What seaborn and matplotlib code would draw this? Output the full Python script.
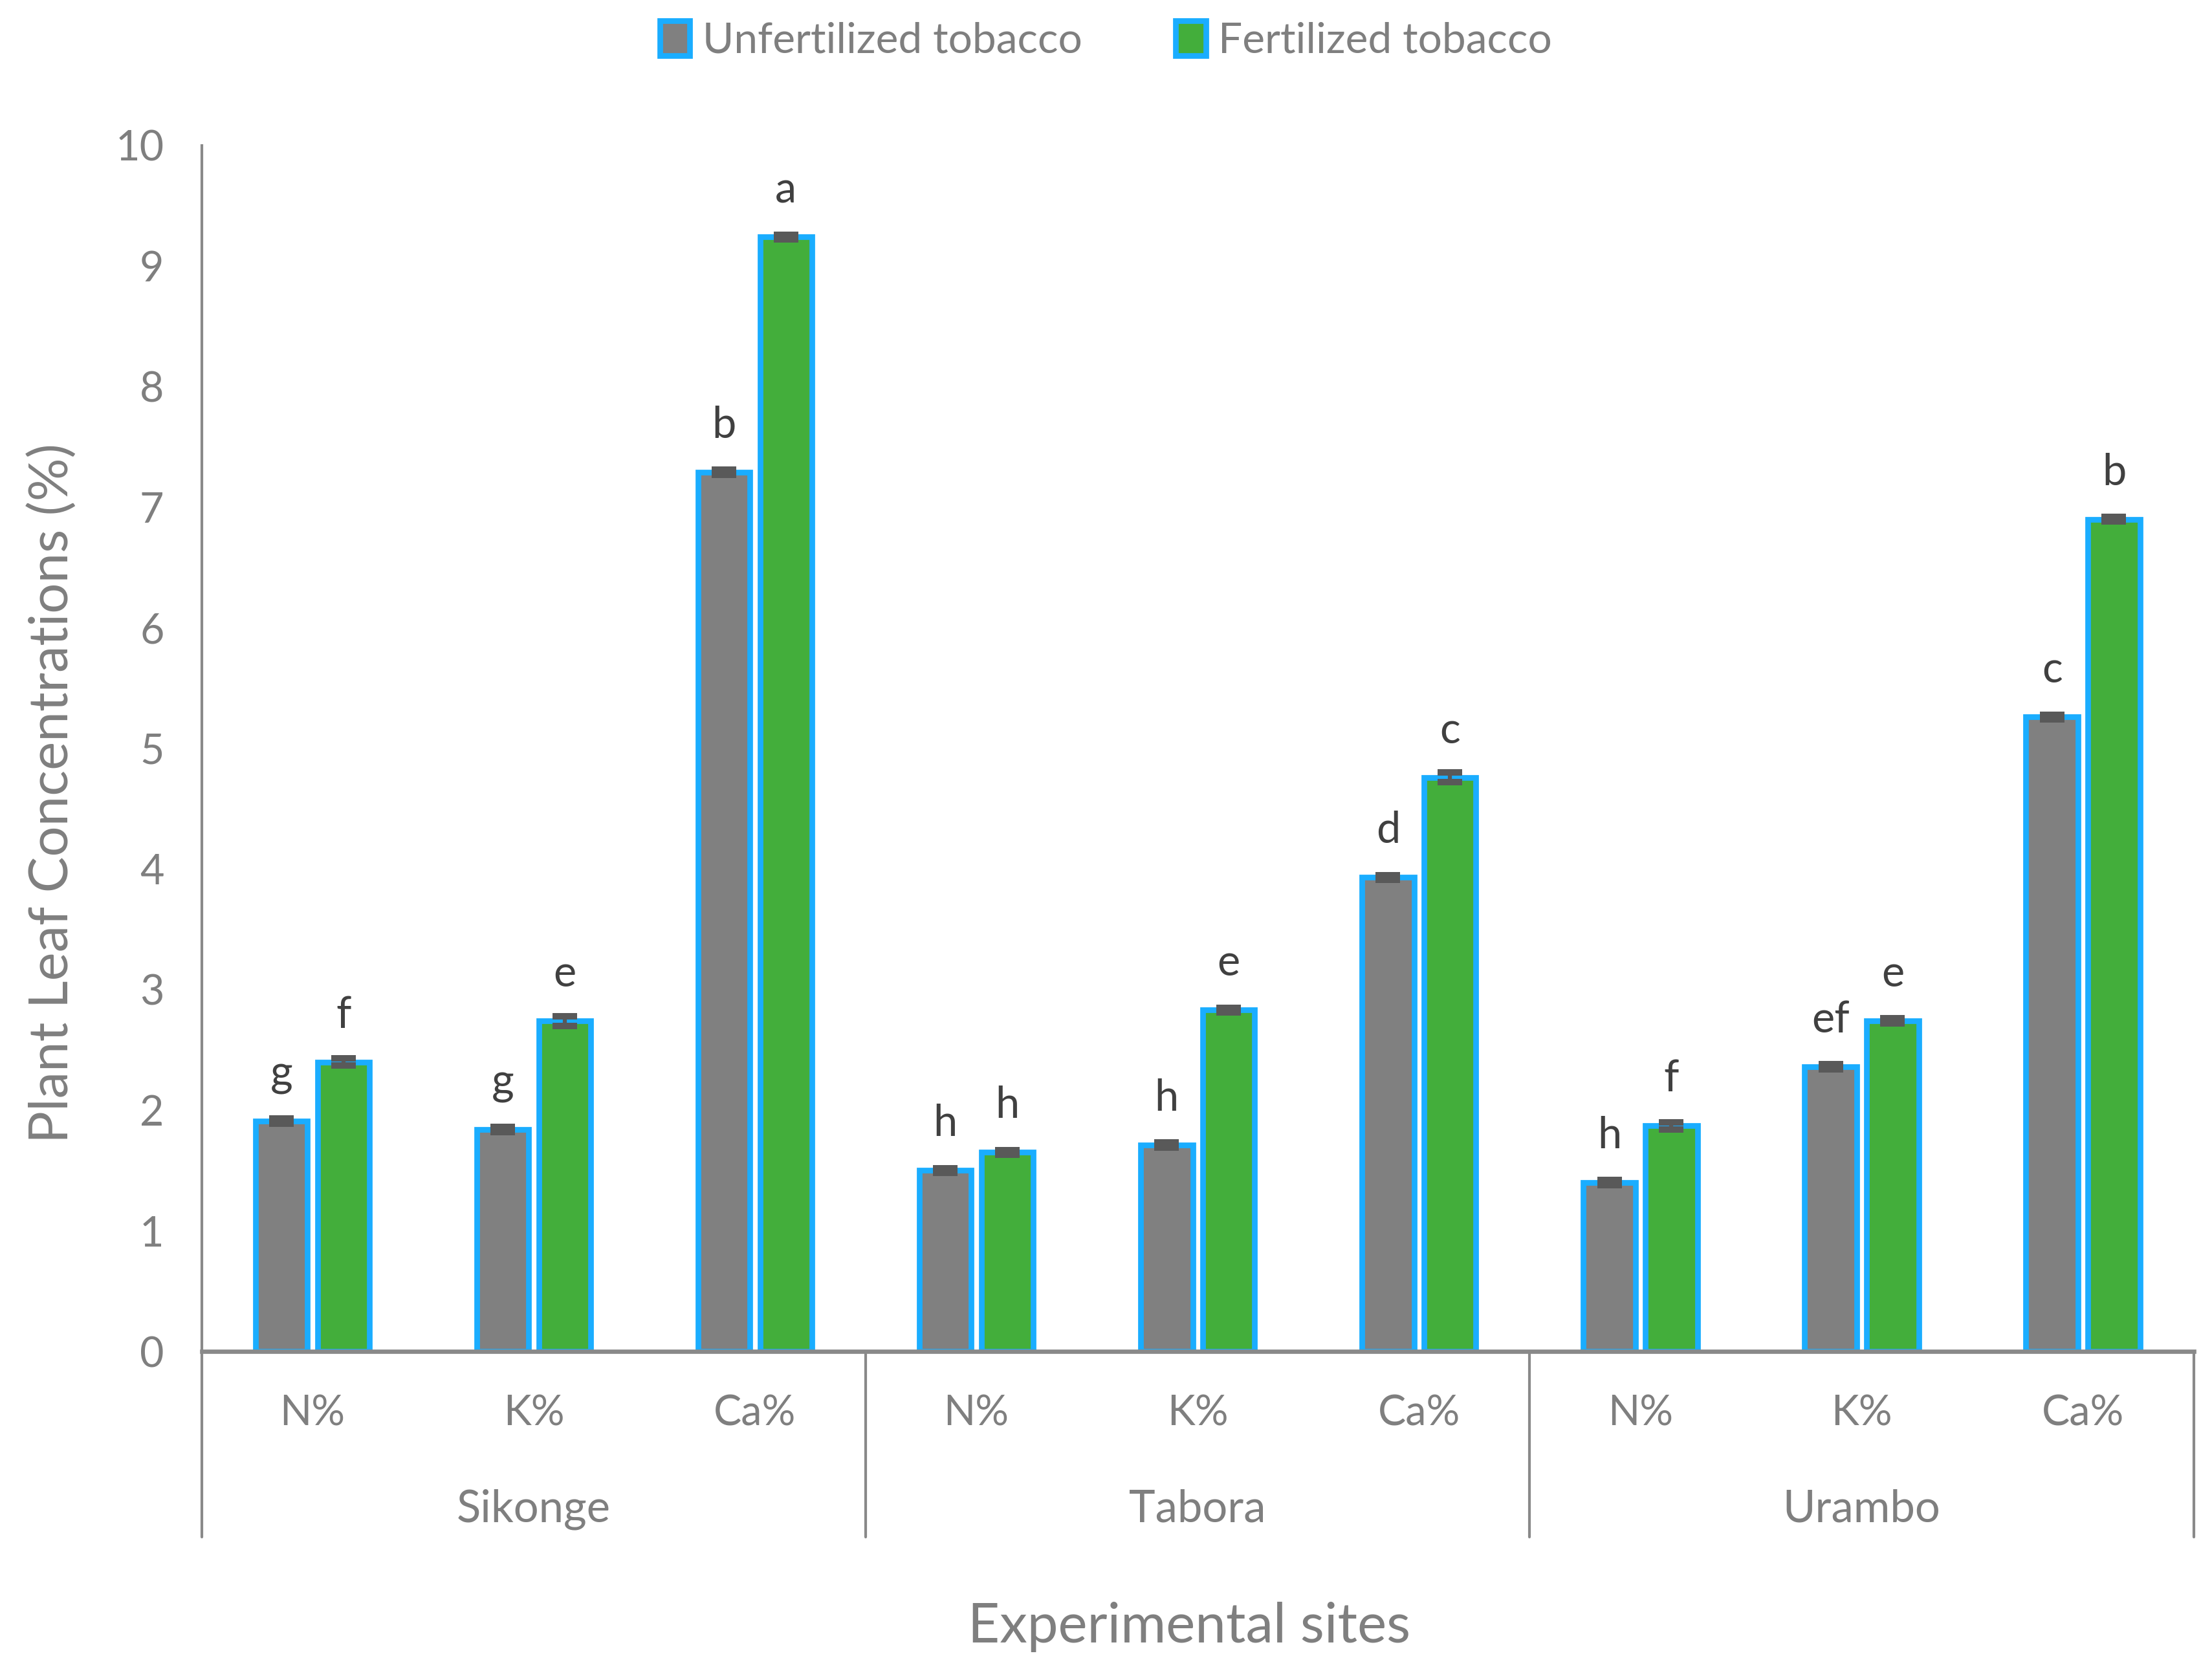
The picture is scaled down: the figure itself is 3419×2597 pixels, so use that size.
import numpy as np
import pandas as pd
import matplotlib
matplotlib.use("Agg")
import matplotlib.pyplot as plt
import seaborn as sns

# values
sites = ["Sikonge", "Tabora", "Urambo"]
nutrients = ["N%", "K%", "Ca%"]
treatments = ["Unfertilized tobacco", "Fertilized tobacco"]

unfertilized = [1.91, 1.84, 7.29, 1.50, 1.71, 3.93, 1.40, 2.36, 5.26]
fertilized = [2.40, 2.74, 9.24, 1.65, 2.83, 4.76, 1.87, 2.74, 6.90]
unfert_err = [0.02, 0.02, 0.02, 0.02, 0.02, 0.02, 0.02, 0.02, 0.02]
fert_err = [0.03, 0.04, 0.02, 0.02, 0.02, 0.04, 0.03, 0.02, 0.02]
unfert_letters = ["g", "g", "b", "h", "h", "d", "h", "ef", "c"]
fert_letters = ["f", "e", "a", "h", "e", "c", "f", "e", "b"]

sns.set_theme(style="white")
plt.rcParams["font.family"] = ["Lato", "DejaVu Sans"]

cats = [f"{s} {n}" for s in sites for n in nutrients]
df = pd.DataFrame({
    "cat": cats * 2,
    "treatment": [treatments[0]] * 9 + [treatments[1]] * 9,
    "value": unfertilized + fertilized,
})

grey_txt = "#7f7f7f"
axis_col = "#898989"
edge_col = "#1aadff"
palette = {treatments[0]: "#808080", treatments[1]: "#43ae3b"}

fig = plt.figure(figsize=(3419 / 300, 2597 / 300), dpi=300)
ax = fig.add_axes([0.0912, 0.1956, 0.9005, 0.7179])

sns.barplot(data=df, x="cat", y="value", hue="treatment", order=cats,
            hue_order=treatments, palette=palette, errorbar=None,
            width=0.56, gap=0.16, edgecolor=edge_col, linewidth=2.1,
            saturation=1, ax=ax, zorder=2)

# error bars and significance letters
for cont, vals, errs, letters in zip(ax.containers,
                                     [unfertilized, fertilized],
                                     [unfert_err, fert_err],
                                     [unfert_letters, fert_letters]):
    xs = [p.get_x() + p.get_width() / 2 for p in cont.patches]
    ax.errorbar(xs, vals, yerr=errs, fmt="none", ecolor="#595959",
                elinewidth=1.5, capsize=4.6, capthick=2.4, zorder=3)
    for x, v, lab in zip(xs, vals, letters):
        ax.text(x, v + 0.22, lab, ha="center", va="bottom",
                fontsize=16, color="#404040")

ax.set_xlim(-0.5, 8.5)
ax.set_ylim(0, 10)
ax.set_yticks(range(0, 11))
ax.set_yticklabels([str(i) for i in range(0, 11)], fontsize=15.5, color=grey_txt)
ax.tick_params(axis="y", length=0, pad=14)
ax.set_xticks([])
ax.set_xlabel("")
ax.set_ylabel("Plant Leaf Concentrations (%)", fontsize=20, color=grey_txt)
ax.yaxis.set_label_coords(-0.062, 0.463)

for side in ["top", "right"]:
    ax.spines[side].set_visible(False)
ax.spines["left"].set_color(axis_col)
ax.spines["left"].set_linewidth(1.0)
ax.spines["bottom"].set_color(axis_col)
ax.spines["bottom"].set_linewidth(1.6)
ax.spines["bottom"].set_zorder(4)

# two-level category axis
trans = ax.get_xaxis_transform()
for i, c in enumerate(cats):
    ax.text(i, -0.0515, nutrients[i % 3], transform=trans, ha="center",
            va="center", fontsize=15.5, color=grey_txt)
for j, s in enumerate(sites):
    ax.text(3 * j + 1, -0.131, s, transform=trans, ha="center",
            va="center", fontsize=16.5, color=grey_txt)
for xb in [-0.5, 2.5, 5.5, 8.5]:
    ax.plot([xb, xb], [0, -0.154], transform=trans, color=axis_col,
            lw=1.0, clip_on=False)

fig.text(0.5375, 0.0316, "Experimental sites", ha="center", va="center",
         fontsize=20.5, color=grey_txt)

handles, labels = ax.get_legend_handles_labels()
leg = fig.legend(handles, labels, loc="center", bbox_to_anchor=(0.5, 0.976),
                 ncol=2, frameon=False, fontsize=15.8, handlelength=0.7,
                 handleheight=0.9, handletextpad=0.3, columnspacing=2.2)
for t in leg.get_texts():
    t.set_color(grey_txt)
if ax.get_legend() is not None:
    ax.get_legend().remove()

fig.savefig("out.png", dpi=300)
